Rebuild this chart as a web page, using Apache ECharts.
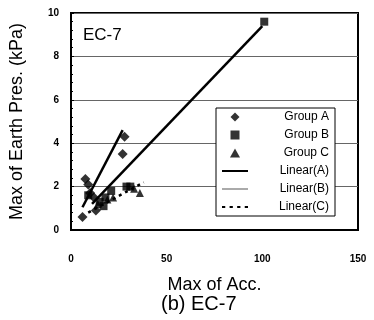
<!DOCTYPE html>
<html>
<head>
<meta charset="utf-8">
<script src="https://cdn.jsdelivr.net/npm/echarts@6/dist/echarts.min.js"></script>
<style>
html, body { margin: 0; padding: 0; background: #fff; }
#chart { width: 374px; height: 320px; }
</style>
</head>
<body>
<div id="chart"></div>
<script>
var chart = echarts.init(document.getElementById('chart'));

// measured points [acc, pressure]
var groupA = [[6, 0.6], [7.5, 2.35], [9, 2.1], [10, 1.7], [12, 1.5], [13, 0.9], [27, 3.5], [28, 4.3]];
var groupB = [[101, 9.6], [9, 1.6], [15, 1.3], [17, 1.1], [18, 1.5], [21, 1.8], [29, 2.0], [31, 2.0]];
var groupC = [[14, 1.2], [19, 1.4], [22, 1.5], [33, 1.9], [36, 1.7]];
// fitted lines (end points)
var linearA = [[6, 1.05], [27, 4.6]];
var linearB = [[11, 1.2], [100, 9.4]];
var linearC = [[9, 0.8], [38, 2.2]];

var xTicks = { min: 0, max: 150, interval: 50 };
var yTicks = { min: 0, max: 10, interval: 2 };

var labelFont = { color: '#000', fontFamily: 'Arial', fontWeight: 'bold', fontSize: 10 };

// legend icons (kept in aspect, centred in the icon box)
var icons = {
    diamond: 'path://M5,0L10,5L5,10L0,5Z',
    square: 'path://M0,0H10V10H0Z',
    triangle: 'path://M5,0L10,9H0Z',
    solid: 'path://M0,0H26V2H0Z',
    fine: 'path://M0,0H26V1H0Z',
    dotted: 'path://M0,0H3V2H0Z M7,0H10V2H7Z M14,0H17V2H14Z M21,0H24V2H21Z'
};

var option = {
    backgroundColor: '#fff',
    animation: false,
    grid: {
        left: 70, right: 16, top: 13, bottom: 90,
        show: true, borderColor: '#000', borderWidth: 2
    },
    legend: {
        orient: 'vertical',
        left: 216, top: 108,
        width: 121,
        padding: [3, 6, 3, 6],
        itemGap: 6,
        itemWidth: 26, itemHeight: 9,
        borderColor: '#000', borderWidth: 1,
        backgroundColor: '#fff',
        symbolKeepAspect: true,
        formatter: function (name) { return '{t|' + name + '}'; },
        textStyle: {
            color: '#000', fontFamily: 'Arial', fontSize: 12,
            rich: { t: { width: 76, align: 'right', fontFamily: 'Arial', fontSize: 12, color: '#000' } }
        },
        data: [
            { name: 'Group A', icon: icons.diamond },
            { name: 'Group B', icon: icons.square },
            { name: 'Group C', icon: icons.triangle },
            { name: 'Linear(A)', icon: icons.solid },
            { name: 'Linear(B)', icon: icons.fine, itemStyle: { color: '#555' } },
            { name: 'Linear(C)', icon: icons.dotted }
        ]
    },
    xAxis: {
        type: 'value',
        min: xTicks.min, max: xTicks.max, interval: xTicks.interval,
        name: 'Max of Acc.',
        nameLocation: 'middle',
        nameGap: 46,
        nameTextStyle: { color: '#000', fontFamily: 'Arial', fontSize: 18 },
        axisLine: { lineStyle: { color: '#000', width: 2 } },
        axisTick: { show: false },
        axisLabel: Object.assign({ margin: 24 }, labelFont),
        splitLine: { show: false }
    },
    yAxis: {
        type: 'value',
        min: yTicks.min, max: yTicks.max, interval: yTicks.interval,
        name: 'Max of Earth Pres. (kPa)',
        nameLocation: 'middle',
        nameGap: 45,
        nameTextStyle: { color: '#000', fontFamily: 'Arial', fontSize: 18 },
        axisLine: { lineStyle: { color: '#000', width: 2 } },
        axisTick: { show: true, inside: true, length: 3, lineStyle: { color: '#000' } },
        minorTick: { show: true, splitNumber: 5, length: 2, lineStyle: { color: '#000' } },
        axisLabel: Object.assign({ margin: 12 }, labelFont),
        splitLine: { lineStyle: { color: '#666', width: 1 } }
    },
    graphic: [
        { type: 'text', left: 83, top: 27, style: { text: 'EC-7', fontFamily: 'Arial', fontSize: 17, fill: '#000' } },
        { type: 'text', left: 161, top: 294, style: { text: '(b) EC-7', fontFamily: 'Arial', fontSize: 20, fill: '#000' } }
    ],
    series: [
        { name: 'Group A', type: 'scatter', symbol: 'diamond', symbolSize: 10, itemStyle: { color: '#000' }, data: groupA },
        { name: 'Group B', type: 'scatter', symbol: 'rect', symbolSize: 8, itemStyle: { color: '#000' }, data: groupB },
        { name: 'Group C', type: 'scatter', symbol: 'triangle', symbolSize: 8, itemStyle: { color: '#000' }, data: groupC },
        { name: 'Linear(A)', type: 'line', showSymbol: false, symbol: 'none', lineStyle: { color: '#000', width: 2.5 }, itemStyle: { color: '#000' }, data: linearA },
        { name: 'Linear(B)', type: 'line', showSymbol: false, symbol: 'none', lineStyle: { color: '#000', width: 2.5 }, itemStyle: { color: '#000' }, data: linearB },
        { name: 'Linear(C)', type: 'line', showSymbol: false, symbol: 'none', lineStyle: { color: '#000', width: 2.5, type: [3, 4] }, itemStyle: { color: '#000' }, data: linearC }
    ]
};

chart.setOption(option);
</script>
</body>
</html>
